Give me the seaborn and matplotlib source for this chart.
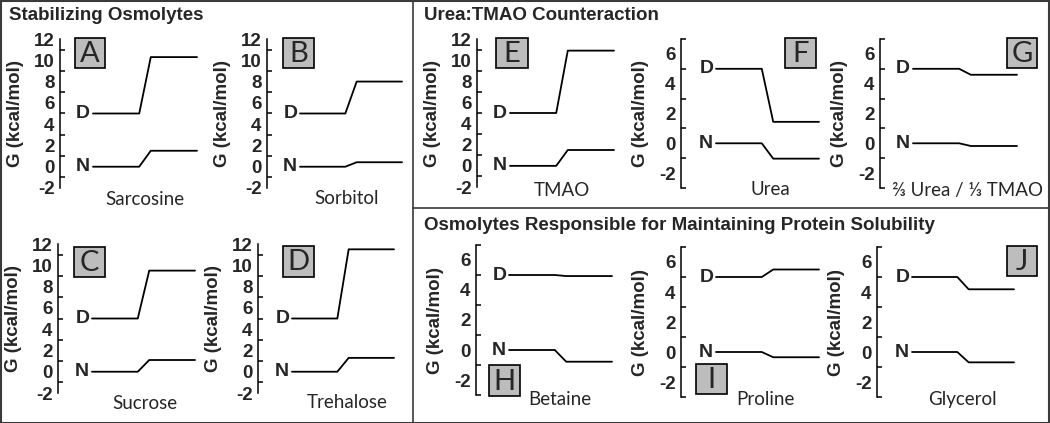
import numpy as np
import pandas as pd
import matplotlib
matplotlib.use("Agg")
import matplotlib.pyplot as plt
import seaborn as sns
from matplotlib.patches import Rectangle
from matplotlib.lines import Line2D
from matplotlib.ticker import MultipleLocator

# reaction coordinate: native/denatured level, transfer step, level in osmolyte
steps = [0, 1, 1.25, 2.25]

panels = ["A", "B", "C", "D", "E", "F", "G", "H", "I", "J"]
osmolytes = ["Sarcosine", "Sorbitol", "Sucrose", "Trehalose", "TMAO", "Urea",
             "⅔ Urea / ⅓ TMAO", "Betaine", "Proline", "Glycerol"]
d_water = [5, 5, 5, 5, 5, 5, 5, 5, 5, 5]
d_osmolyte = [10.3, 8.0, 9.5, 11.5, 10.9, 1.44, 4.6, 4.93, 5.5, 4.18]
n_water = [0, 0, 0, 0, 0, 0, 0, 0, 0, 0]
n_osmolyte = [1.5, 0.42, 1.1, 1.3, 1.5, -1.03, -0.18, -0.78, -0.35, -0.69]
big_scale = ["A", "B", "C", "D", "E"]
big_ticks = [-2, 0, 2, 4, 6, 8, 10, 12]
small_ticks = [-2, 0, 2, 4, 6]

W, H = 1050, 423

# layout in pixels: spine x, line start, line end, top y, bottom y
layout = {
    "A": (60, 93, 197, 39, 188),
    "B": (267, 300, 402, 39, 188),
    "C": (58, 92, 195, 244, 393),
    "D": (258, 292, 394, 244, 393),
    "E": (477, 510, 614, 39, 187),
    "F": (681, 716, 819, 39, 188),
    "G": (880, 913, 1017, 39, 188),
    "H": (476, 509, 612, 245, 395),
    "I": (681, 716, 819, 247, 397),
    "J": (877, 912, 1014, 247, 397),
}
boxes = {
    "A": (75, 38, 105, 68), "B": (283, 38, 314, 68),
    "C": (74, 247, 105, 277), "D": (283, 246, 314, 277),
    "E": (496, 38, 528, 68), "F": (785, 38, 816, 68),
    "G": (1007, 38, 1037, 68), "H": (489, 365, 520, 396),
    "I": (696, 364, 727, 394), "J": (1007, 246, 1037, 276),
}
name_pos = {
    "A": (145, 199), "B": (347, 198), "C": (145, 403), "D": (347, 402),
    "E": (562, 190), "F": (770, 189), "G": (967, 190), "H": (560, 399),
    "I": (765, 399), "J": (962, 399),
}

sns.set_theme(style="white")
plt.rcParams["font.family"] = ["Liberation Sans", "DejaVu Sans"]
plt.rcParams["font.weight"] = "bold"
plt.rcParams["axes.labelweight"] = "bold"
plt.rcParams["axes.linewidth"] = 1.1
plt.rcParams["axes.unicode_minus"] = False
plt.rcParams["ytick.labelsize"] = 13.5

fig = plt.figure(figsize=(W / 100, H / 100), dpi=100)


def fx(x):
    return x / W


def fy(y):
    return 1 - y / H


for i, p in enumerate(panels):
    spine, start, end, top, bot = layout[p]
    scale = (end - start) / steps[-1]
    ax = fig.add_axes([fx(spine), fy(bot), (end + 3 - spine) / W, (bot - top) / H])
    ax.set_facecolor("none")
    df = pd.DataFrame({
        "step": steps + steps,
        "G": [d_water[i], d_water[i], d_osmolyte[i], d_osmolyte[i],
              n_water[i], n_water[i], n_osmolyte[i], n_osmolyte[i]],
        "state": ["D"] * 4 + ["N"] * 4,
    })
    sns.lineplot(data=df, x="step", y="G", units="state", estimator=None,
                 sort=False, color="black", linewidth=1.3, ax=ax)
    ax.set_xlim(-(start - spine) / scale, steps[-1] + 3 / scale)
    if p in big_scale:
        ax.set_ylim(-2, 12)
        ax.set_yticks(big_ticks)
    else:
        ax.set_ylim(-3, 7)
        ax.set_yticks(small_ticks)
    ax.yaxis.set_minor_locator(MultipleLocator(2, offset=1))
    ax.set_xticks([])
    ax.set_xlabel("")
    ax.set_ylabel("G (kcal/mol)", fontsize=13.5, fontweight="bold", labelpad=7)
    for s in ["top", "right", "bottom"]:
        ax.spines[s].set_visible(False)
    ax.spines["left"].set_color("black")
    ax.tick_params(axis="y", which="major", direction="in", length=4.5,
                   width=1.1, color="black", pad=4)
    ax.tick_params(axis="y", which="minor", direction="in", length=3.5,
                   width=1.1, color="black", left=True)
    ax.text(-0.06, d_water[i], "D", ha="right", va="center", fontsize=14,
            fontweight="bold")
    ax.text(-0.06, n_water[i], "N", ha="right", va="center", fontsize=14,
            fontweight="bold")

    x0, y0, x1, y1 = boxes[p]
    fig.add_artist(Rectangle((fx(x0), fy(y1)), (x1 - x0) / W, (y1 - y0) / H,
                             facecolor="#bdbdbd", edgecolor="black", lw=1.2))
    fig.text(fx((x0 + x1) / 2), fy((y0 + y1) / 2 + 1), p, ha="center",
             va="center", fontsize=21, fontweight="normal",
             family=["Lato", "DejaVu Sans"])
    nx, ny = name_pos[p]
    fig.text(fx(nx), fy(ny), osmolytes[i], ha="center", va="center",
             fontsize=13.5, fontweight="normal", family=["Lato", "DejaVu Sans"])

# section headers and frames
fig.text(fx(9), fy(15), "Stabilizing Osmolytes", fontsize=13.5,
         fontweight="bold", va="center", ha="left")
fig.text(fx(424), fy(15), "Urea:TMAO Counteraction", fontsize=13.5,
         fontweight="bold", va="center", ha="left")
fig.text(fx(424), fy(225), "Osmolytes Responsible for Maintaining Protein Solubility",
         fontsize=13.5, fontweight="bold", va="center", ha="left")

frame = "#3a3a3a"
fig.add_artist(Rectangle((0.5 / W, 0.5 / H), 1 - 1.5 / W, 1 - 1.5 / H,
                         fill=False, edgecolor=frame, lw=1.5))
fig.add_artist(Line2D([fx(413), fx(413)], [0, 1], color=frame, lw=1.2))
fig.add_artist(Line2D([fx(413), 1], [fy(208), fy(208)], color=frame, lw=1.2))

fig.savefig("out.png", dpi=100)
